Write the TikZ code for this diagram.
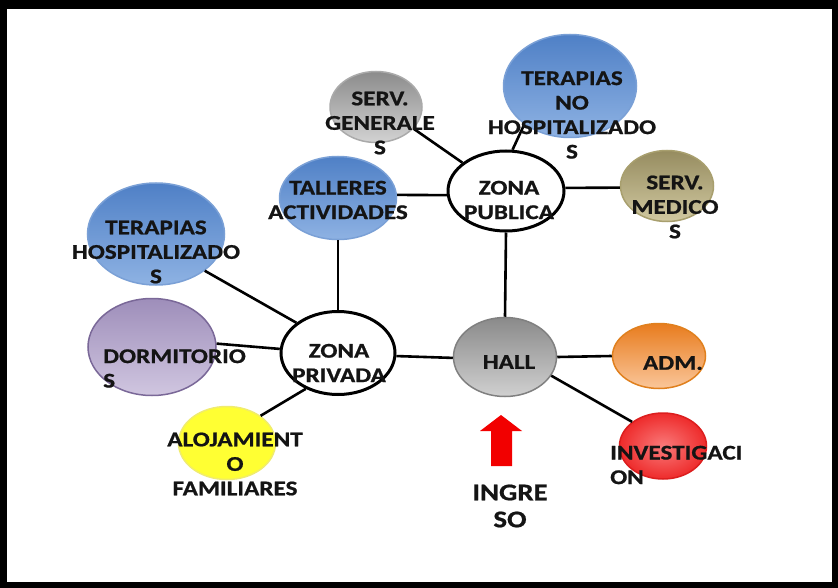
\documentclass[tikz,border=0pt]{standalone}
\usepackage{fontspec}
\newfontfamily\labfont[FakeStretch=1.2,BoldFeatures={FakeBold=0.8}]{Carlito}
\usetikzlibrary{shapes.geometric}
\definecolor{txt}{HTML}{141414}
\definecolor{bluetop}{HTML}{4F80C6}
\definecolor{bluebot}{HTML}{8EB2E3}
\definecolor{blueln}{HTML}{7AA0D6}
\begin{document}
\begin{tikzpicture}[x=1pt,y=-1pt,
  bub/.style={ellipse, inner sep=0pt, line width=1.5pt},
  bluebub/.style={bub, draw=blueln, top color=bluetop, bottom color=bluebot},
  zone/.style={ellipse, inner sep=0pt, draw=black, fill=white, line width=3pt},
  conn/.style={draw=black, line width=2.6pt},
  lab/.style={font=\labfont\bfseries\fontsize{21}{24.5}\selectfont, align=center, inner sep=0pt, text=txt},
  labl/.style={lab, align=left, anchor=west}]
\useasboundingbox (0,0) rectangle (838,588);
\fill[black] (0,0) rectangle (838,588);
\fill[white] (7,9) rectangle (832,582);
% bubbles
\node[bub, draw={rgb,255:red,170;green,170;blue,170}, top color={rgb,255:red,140;green,140;blue,140}, bottom color={rgb,255:red,210;green,210;blue,210}, minimum width=92pt, minimum height=71pt] (sg) at (376,107) {};
\node[bluebub, minimum width=133pt, minimum height=103pt] (tn) at (570,86) {};
\node[zone, minimum width=116pt, minimum height=80pt] (zp) at (506,191) {};
\node[bub, draw={rgb,255:red,168;green,159;blue,110}, top color={rgb,255:red,150;green,140;blue,96}, bottom color={rgb,255:red,208;green,200;blue,160}, minimum width=93pt, minimum height=71pt] (sm) at (667,186) {};
\node[bluebub, minimum width=117pt, minimum height=83pt] (tl) at (338,198) {};
\node[bluebub, minimum width=137pt, minimum height=102pt] (th) at (156,234) {};
\node[bub, draw={rgb,255:red,122;green,104;blue,152}, top color={rgb,255:red,158;green,142;blue,186}, bottom color={rgb,255:red,208;green,198;blue,224}, minimum width=128pt, minimum height=97pt] (dm) at (152,347) {};
\node[zone, minimum width=114pt, minimum height=83pt] (zpr) at (338,353) {};
\node[bub, draw={rgb,255:red,240;green,236;blue,110}, fill={rgb,255:red,255;green,255;blue,51}, minimum width=97pt, minimum height=73pt] (al) at (227,443) {};
\node[bub, draw={rgb,255:red,128;green,128;blue,128}, top color={rgb,255:red,138;green,138;blue,138}, bottom color={rgb,255:red,208;green,208;blue,208}, minimum width=103pt, minimum height=79pt] (hall) at (505,357) {};
\node[bub, draw={rgb,255:red,224;green,128;blue,30}, top color={rgb,255:red,232;green,124;blue,30}, bottom color={rgb,255:red,250;green,198;blue,154}, minimum width=93pt, minimum height=65pt] (adm) at (659,356) {};
\node[bub, draw={rgb,255:red,220;green,30;blue,30}, inner color={rgb,255:red,249;green,122;blue,122}, outer color={rgb,255:red,238;green,43;blue,43}, minimum width=87pt, minimum height=66pt] (inv) at (663,446) {};
% connectors
\draw[conn] (sg.-30) -- (zp.147);
\draw[conn] (tn.220) -- (zp.81);
\draw[conn] (tl.3) -- (zp.184);
\draw[conn] (zp.3) -- (sm.182);
\draw[conn] (zp.south) -- (hall.north);
\draw[conn] (tl.south) -- (zpr.north);
\draw[conn] (th.-37) -- (zpr.144);
\draw[conn] (dm.3) -- (zpr.176);
\draw[conn] (zpr.228) -- (al.39);
\draw[conn] (zpr.-3) -- (hall.181);
\draw[conn] (hall.east) -- (adm.west);
\draw[conn] (hall.-22) -- (inv.142);
% arrow
\fill[red!95!black] (501,415) -- (522,431) -- (512,431) -- (512,466) -- (491,466) -- (491,431) -- (480,431) -- cycle;
% labels
\node[lab] (sgt) at (380,123) {SERV.\\GENERALE\\S};
\node[lab] (tnt) at (572,115) {TERAPIAS\\NO\\HOSPITALIZADO\\S};
\node[lab] (zpt) at (509,200) {ZONA\\PUBLICA};
\node[lab] (smt) at (675,207) {SERV.\\MEDICO\\S};
\node[lab] (tlt) at (338,200) {TALLERES\\ACTIVIDADES};
\node[lab] (tht) at (156,252) {TERAPIAS\\HOSPITALIZADO\\S};
\node[labl] (dmt) at (103,368.5) {DORMITORIO\\S};
\node[lab] (zprt) at (339,363) {ZONA\\PRIVADA};
\node[lab] (alt) at (235,464) {ALOJAMIENT\\O\\FAMILIARES};
\node[lab] (hallt) at (509,362) {HALL};
\node[lab] (admt) at (673,363) {ADM.};
\node[labl] (invt) at (610,465) {INVESTIGACI\\ON};
\node[lab, font=\labfont\bfseries\fontsize{24}{27}\selectfont] (ingt) at (510,506) {INGRE\\SO};
\end{tikzpicture}
\end{document}
